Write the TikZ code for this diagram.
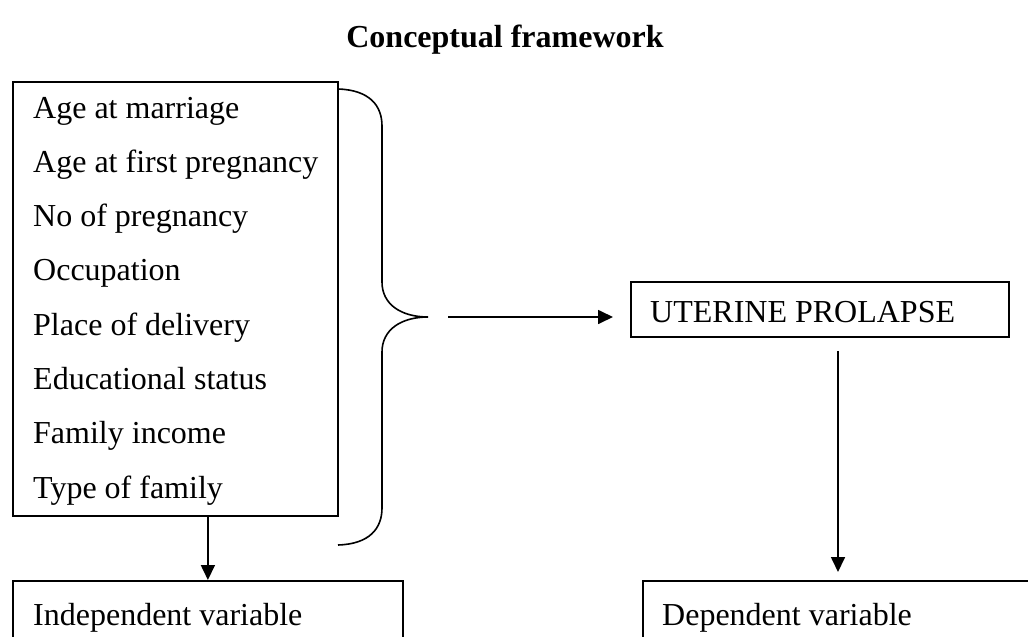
\documentclass[tikz,border=0pt]{standalone}
\usepackage{fontspec}
\setmainfont{Liberation Serif}
\usetikzlibrary{arrows.meta}
\begin{document}
\begin{tikzpicture}[x=1pt,y=-1pt,
  boxline/.style={draw=black,line width=1.8pt,inner sep=0pt,anchor=north west},
  item/.style={anchor=base west,inner sep=0pt,font=\fontsize{32}{32}\selectfont},
  lbl/.style={anchor=base west,inner sep=0pt,font=\fontsize{32}{32}\selectfont},
  arr/.style={-{Triangle[length=15pt,width=14pt]},line width=1.7pt}]
\useasboundingbox (0,0) rectangle (1028,637);
\clip (0,0) rectangle (1028,637);
% title
\node[anchor=base,inner sep=0pt,font=\fontsize{32}{32}\selectfont\bfseries] (title) at (505,47) {Conceptual framework};
% left factors box
\node[boxline,minimum width=325pt,minimum height=434pt] (lbox) at (12,81) {};
\foreach \t [count=\i from 0] in {Age at marriage,Age at first pregnancy,No of pregnancy,Occupation,Place of delivery,Educational status,Family income,Type of family}{
  \node[item] (it\i) at (33,118+54.3*\i) {\t};
}
% brace
\coordinate (btop) at (338,89);
\coordinate (btip) at (428,317);
\coordinate (bbot) at (338,545);
\draw[line width=1.6pt] (btop) .. controls (370,90) and (382,106) .. (382,126)
  -- (382,282) .. controls (382,305) and (402,317) .. (btip)
  .. controls (402,317) and (382,329) .. (382,352)
  -- (382,508) .. controls (382,528) and (370,544) .. (bbot);
% uterine prolapse box
\node[boxline,minimum width=378pt,minimum height=55pt] (ubox) at (630,281) {};
\node[lbl] (utext) at (650,322) {UTERINE PROLAPSE};
% bottom boxes
\node[boxline,minimum width=390pt,minimum height=90pt] (ibox) at (12,580) {};
\node[lbl] (itext) at (33,625) {Independent variable};
\node[boxline,minimum width=420pt,minimum height=90pt] (dbox) at (642,580) {};
\node[lbl] (dtext) at (662,625) {Dependent variable};
% connectors
\draw[arr,shorten <=20pt,shorten >=17pt] (btip) -- (ubox.west |- btip);
\draw[arr] (lbox.south -| ibox.north) -- (ibox.north);
\draw[arr,shorten <=13pt,shorten >=8pt] (ubox.south -| 838,0) -- (dbox.north -| 838,0);
\end{tikzpicture}
\end{document}
